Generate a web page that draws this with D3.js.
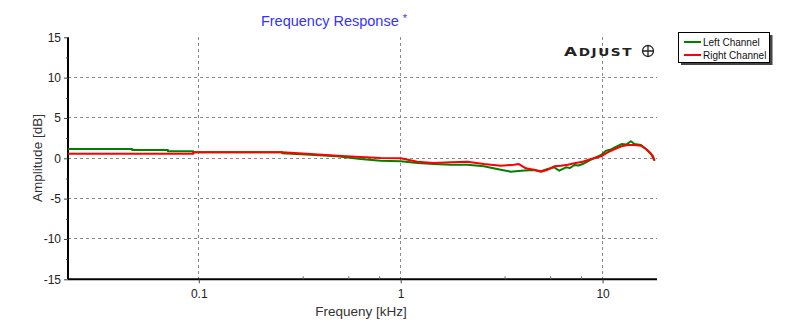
<!DOCTYPE html>
<html><head><meta charset="utf-8">
<script src="https://cdn.jsdelivr.net/npm/d3@7"></script>
<style>body{margin:0;background:#fff}svg{display:block;font-family:"Liberation Sans",Arial,sans-serif}</style>
</head><body><svg id="c" width="800" height="330"></svg>
<script>
const leftChannel = [[0.0225,1.15],[0.0468,1.15],[0.0468,1.03],[0.0703,1.03],[0.0703,0.87],[0.094,0.87],[0.094,0.74],[0.259,0.74],[0.259,0.62],[0.357,0.45],[0.485,0.25],[0.633,-0.09],[0.796,-0.30],[1.0,-0.37],[1.21,-0.58],[1.46,-0.71],[1.77,-0.79],[2.14,-0.79],[2.58,-0.99],[3.13,-1.41],[3.51,-1.66],[3.94,-1.54],[4.57,-1.45],[4.95,-1.61],[5.35,-1.33],[5.77,-1.12],[6.1,-1.54],[6.59,-1.12],[6.9,-1.2],[7.25,-0.83],[7.6,-0.9],[7.97,-0.71],[8.77,-0.17],[9.84,0.41],[10.4,0.94],[10.9,1.05],[11.5,1.36],[12.4,1.77],[13.1,1.7],[13.8,2.11],[14.4,1.77],[15.5,1.65],[16.8,0.94],[17.7,0.32],[18.1,-0.30]];
const rightChannel = [[0.0225,0.57],[0.094,0.57],[0.094,0.74],[0.259,0.74],[0.357,0.53],[0.485,0.32],[0.633,0.16],[0.796,0.04],[1.0,0.0],[1.21,-0.42],[1.46,-0.58],[1.77,-0.5],[2.14,-0.42],[2.58,-0.71],[3.13,-0.92],[3.64,-0.79],[3.85,-0.71],[4.17,-1.24],[4.57,-1.41],[4.95,-1.66],[5.35,-1.41],[5.77,-0.99],[6.22,-0.92],[6.72,-0.79],[7.25,-0.62],[7.97,-0.42],[8.77,-0.09],[9.84,0.25],[10.6,0.74],[11.5,1.15],[12.4,1.49],[13.3,1.65],[14.4,1.65],[15.5,1.56],[16.4,1.15],[17.4,0.53],[18.1,-0.30]];
const yTicks = [-15,-10,-5,0,5,10,15];
const xTicks = [0.1,1,10];
const xTickLabels = ["0.1","1","10"];
const xMinorTicks = [0.327,0.55,0.782,3.27,5.5,7.82];
const yMinorTicks = [-12.5,-7.5,-2.5,2.5,7.5,12.5];
const series = [{name:"Left Channel",data:leftChannel,color:"#008000"},{name:"Right Channel",data:rightChannel,color:"#ff0000"}];

const svg = d3.select("#c");
const L=68,R=657,T=37.3,B=279.3;
const x = d3.scaleLog().domain([0.0225,18.6]).range([L,R]);
const y = d3.scaleLinear().domain([-15,15]).range([B,T]);
const FF = "Liberation Sans, Arial, sans-serif";

// grid
const g = svg.append("g");
g.selectAll(".hg").data(yTicks.filter(v=>v>-15&&v<15)).join("line")
  .attr("x1",L).attr("x2",R).attr("y1",d=>y(d)).attr("y2",d=>y(d))
  .attr("stroke","#8a8a8a").attr("stroke-dasharray","3,3").attr("stroke-width",1).attr("shape-rendering","crispEdges");
g.selectAll(".vg").data(xTicks).join("line")
  .attr("x1",d=>x(d)).attr("x2",d=>x(d)).attr("y1",T).attr("y2",B)
  .attr("stroke","#8a8a8a").attr("stroke-dasharray","3,3").attr("stroke-width",1).attr("shape-rendering","crispEdges");

// axes
const yAxis = svg.append("g").attr("transform",`translate(${L},0)`)
  .call(d3.axisLeft(y).tickValues(yTicks).tickFormat(d=>String(d)).tickSize(4).tickPadding(3));
yAxis.attr("font-family",FF);
yAxis.select(".domain").attr("d",`M0,${T}V${B}`).attr("stroke","#000").attr("stroke-width",2);
yAxis.selectAll("text").attr("font-size",12).attr("fill","#222");
yAxis.selectAll(".tick line").attr("stroke","#444");
svg.append("g").attr("transform",`translate(${L},0)`)
  .call(d3.axisLeft(y).tickValues(yMinorTicks).tickSize(2).tickFormat(""))
  .call(s=>s.select(".domain").remove()).selectAll("line").attr("stroke","#444");

const xAxis = svg.append("g").attr("transform",`translate(0,${B})`)
  .call(d3.axisBottom(x).tickValues(xTicks).tickFormat((d,i)=>xTickLabels[i]).tickSize(4).tickPadding(6));
xAxis.attr("font-family",FF);
xAxis.select(".domain").attr("d",`M${L},0H${R}`).attr("stroke","#000").attr("stroke-width",2);
xAxis.selectAll("text").attr("font-size",12).attr("fill","#222");
xAxis.selectAll(".tick line").attr("stroke","#444");
svg.append("g").attr("transform",`translate(0,${B})`)
  .call(d3.axisBottom(x).tickValues(xMinorTicks).tickSize(-3).tickFormat(""))
  .call(s=>s.select(".domain").remove()).selectAll("line").attr("stroke","#666");

// lines
const line = d3.line().x(d=>x(d[0])).y(d=>y(d[1]));
svg.append("g").selectAll("path").data(series).join("path")
  .attr("d",d=>line(d.data)).attr("fill","none").attr("stroke",d=>d.color).attr("stroke-width",2).attr("stroke-linejoin","round");

// titles
const title = svg.append("text").attr("x",334).attr("y",26).attr("text-anchor","middle")
  .attr("font-size",14.5).attr("fill","#3333ff");
title.append("tspan").text("Frequency Response ");
title.append("tspan").text("*").attr("font-size",11).attr("dy",-4);
svg.append("text").attr("x",361).attr("y",316).attr("text-anchor","middle").attr("font-size",13.5).attr("fill","#333").text("Frequeny [kHz]");
svg.append("text").attr("transform","translate(42,158) rotate(-90)").attr("text-anchor","middle").attr("font-size",13.5).attr("fill","#333").text("Amplitude [dB]");

// ADJUST logo
const logo = svg.append("text").attr("transform","translate(564,56) scale(1.3,1)").attr("font-size",13).attr("font-weight","bold")
  .attr("font-family","DejaVu Sans, sans-serif").attr("letter-spacing",1.2).attr("fill","#222");
logo.append("tspan").text("A");
logo.append("tspan").attr("font-size",10.5).text("DJUST");
svg.append("circle").attr("cx",648).attr("cy",51).attr("r",5.5).attr("fill","none").attr("stroke","#222").attr("stroke-width",1.3);
svg.append("path").attr("d","M642.5,51H653.5M648,45.5V56.5").attr("stroke","#222").attr("stroke-width",1.3);

// legend
const lg = svg.append("g").attr("font-family",FF);
lg.append("rect").attr("x",681).attr("y",35).attr("width",91.5).attr("height",30).attr("fill","#444");
lg.append("rect").attr("x",678.5).attr("y",32.5).attr("width",91).attr("height",30).attr("fill","#fff").attr("stroke","#000").attr("stroke-width",1);
series.forEach((s,i)=>{
  const yy = 42 + i*13;
  lg.append("line").attr("x1",684).attr("x2",701).attr("y1",yy).attr("y2",yy).attr("stroke",s.color).attr("stroke-width",2);
  lg.append("text").attr("x",703).attr("y",yy+3.5).attr("font-size",10).attr("fill","#111").text(s.name);
});
</script></body></html>
